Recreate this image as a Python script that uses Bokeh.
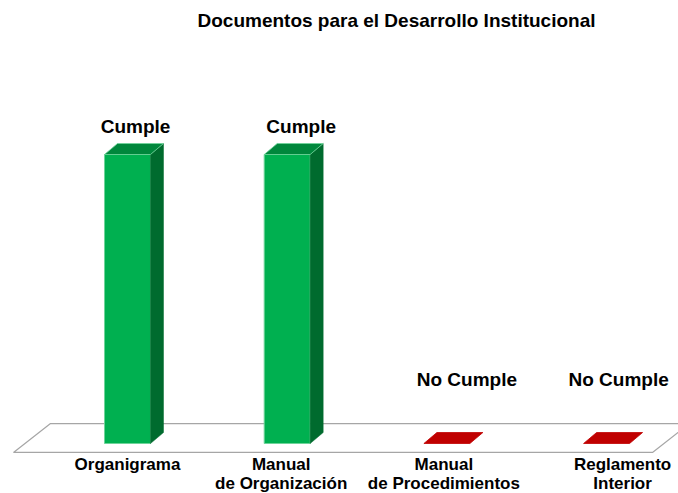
from bokeh.plotting import figure
from bokeh.models import Range1d, ColumnDataSource, Label
from bokeh.core.properties import value
from bokeh.embed import file_html
from bokeh.resources import INLINE

# ---- data ----
title_text = "Documentos para el Desarrollo Institucional"
categories = ["Organigrama", "Manual\nde Organización", "Manual\nde Procedimientos", "Reglamento\nInterior"]
values = [1, 1, 0, 0]
status = ["Cumple", "Cumple", "No Cumple", "No Cumple"]

# ---- style ----
FONT = "Liberation Sans"
W, H = 678, 493
HW = 0.144          # half bar width (x units)
DX, DY = 0.0814, 0.038   # 3-D depth offsets
front_col = {"Cumple": "#00B050", "No Cumple": "#C00000"}
top_col = {"Cumple": "#00873C", "No Cumple": "#C00000"}
side_col = {"Cumple": "#006B2E", "No Cumple": "#900000"}
edge_col = {"Cumple": "#6FD49A", "No Cumple": "#C00000"}
label_dx_px = [8, 14, 20, 12]     # value-label horizontal nudges (px)
cat_dx_px = [0, -6, -3, 16]       # category-label horizontal nudges (px)

p = figure(width=W, height=H, output_backend="svg", toolbar_location=None,
           x_range=Range1d(-0.7952, 3.4503), y_range=Range1d(-0.1730, 1.5329),
           min_border=0, outline_line_color=None)
p.axis.visible = False
p.grid.visible = False

xs = list(range(len(categories)))

# floor
ff, fb = -0.031, 0.069
p.patch([-0.7138, 3.2875, 3.519, -0.4821], [ff, ff, fb, fb],
        fill_color="white", line_color="#A6A6A6", line_width=1.2)

# front faces (only bars with height)
vis = [i for i, v in enumerate(values) if v > 0]
src_pos = ColumnDataSource(dict(
    x=[xs[i] for i in vis], top=[values[i] for i in vis], bottom=[0] * len(vis),
    fc=[front_col[status[i]] for i in vis], ec=[edge_col[status[i]] for i in vis]))
p.vbar(x="x", top="top", bottom="bottom", width=2 * HW, fill_color="fc",
       line_color="ec", line_width=1, source=src_pos)

# side and top faces
side_x, side_y, side_c = [], [], []
top_x, top_y, top_c, top_e = [], [], [], []
for x, v, s in zip(xs, values, status):
    if v > 0:
        side_x.append([x + HW, x + HW + DX, x + HW + DX, x + HW])
        side_y.append([0, DY, v + DY, v])
        side_c.append(side_col[s])
    top_x.append([x - HW, x + HW, x + HW + DX, x - HW + DX])
    top_y.append([v, v, v + DY, v + DY])
    top_c.append(top_col[s])
    top_e.append(edge_col[s] if v > 0 else top_col[s])
p.patches(side_x, side_y, fill_color=side_c, line_color=side_c, line_width=0.5)
p.patches(top_x, top_y, fill_color=top_c, line_color=top_e, line_width=0.8)

# value labels
lab_src = ColumnDataSource(dict(
    x=xs, y=values, text=status, xo=label_dx_px,
    yo=[-28 if v > 0 else -64 for v in values]))
p.text(x="x", y="y", text="text", x_offset="xo", y_offset="yo", source=lab_src,
       text_font=value(FONT), text_font_style="bold", text_font_size="19px",
       text_align="center", text_baseline="alphabetic", text_color="#000000")

# category labels
cat_src = ColumnDataSource(dict(x=xs, y=[ff] * len(xs), text=categories,
                                xo=cat_dx_px))
p.text(x="x", y="y", text="text", x_offset="xo", y_offset=3, source=cat_src,
       text_font=value(FONT), text_font_style="bold", text_font_size="17px",
       text_align="center", text_baseline="top", text_line_height=1.0,
       text_color="#000000")

# title
p.add_layout(Label(x=396, y=473, x_units="screen", y_units="screen", text=title_text,
                   text_font=FONT, text_font_style="bold", text_font_size="19px",
                   text_align="center", text_baseline="alphabetic", text_color="#000000"))

open("out.html", "w").write(file_html(p, INLINE))
